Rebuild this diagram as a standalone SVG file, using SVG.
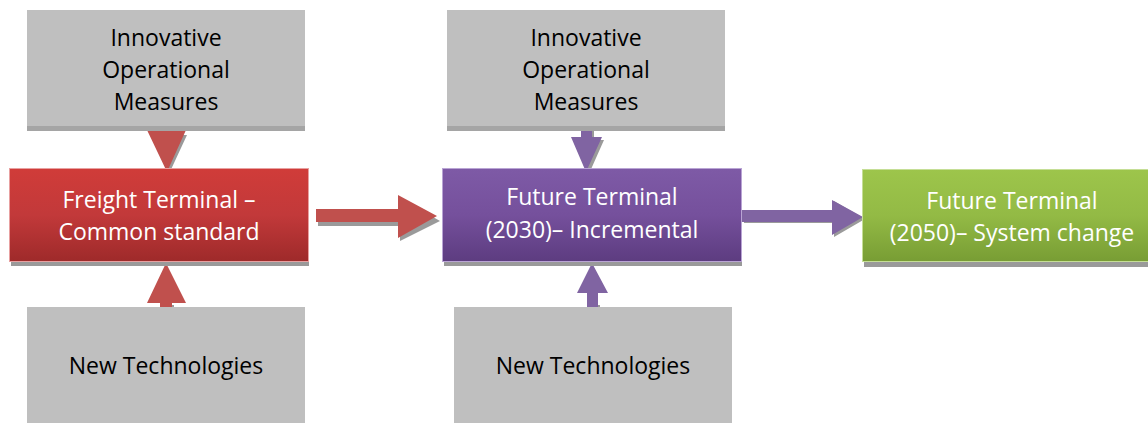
<svg xmlns="http://www.w3.org/2000/svg" width="1148" height="423" viewBox="0 0 1148 423">
<defs>
<linearGradient id="gRed" x1="0" y1="0" x2="0" y2="1"><stop offset="0" stop-color="#d03c39"/><stop offset="0.5" stop-color="#c2393a"/><stop offset="1" stop-color="#9e2a2a"/></linearGradient>
<linearGradient id="gPur" x1="0" y1="0" x2="0" y2="1"><stop offset="0" stop-color="#7e5aa6"/><stop offset="0.5" stop-color="#75509c"/><stop offset="1" stop-color="#5d3c80"/></linearGradient>
<linearGradient id="gGrn" x1="0" y1="0" x2="0" y2="1"><stop offset="0" stop-color="#9dc54b"/><stop offset="0.5" stop-color="#93ba45"/><stop offset="1" stop-color="#789d34"/></linearGradient>
</defs>
<style>
.gray{fill:#bfbfbf}
.gsh{fill:#a5a5a5}
.sh{fill:#9a9a9a}
.t{font-family:"Open Sans","Liberation Sans",sans-serif;font-size:23px;text-anchor:middle}
.dk{fill:#000}
.wt{fill:#fff}
.ar{fill:#c0504d}
.ap{fill:#8064a2}
</style>
<g id="connectors">
<path class="sh" d="M162 127h12v8h13l-19 41z"/>
<path class="ar" d="M160 125h12v5h14l-19 42l-20-42h13z"/>
<path class="sh" d="M162 305h12v8h-12z"/>
<path class="ar" d="M166 263l20 40h-14v7h-12v-7h-13z"/>
<path class="sh" d="M318 212h82v-14l40 23l-40 20v-15h-82z"/>
<path class="ar" d="M316 209h82v-14l39 21l-39 22v-16h-82z"/>
<path class="sh" d="M583 127h11v13h10l-16 36z"/>
<path class="ap" d="M581 125h11v12h10l-16 35l-15-35h10z"/>
<path class="sh" d="M589 305h11v7h-11z"/>
<path class="ap" d="M592 263l16 30h-10v17h-11v-17h-10z"/>
<path class="sh" d="M744 213h90v-12l31 18l-31 18v-14h-90z"/>
<path class="ap" d="M742 210h90v-10l31 17l-31 18v-13h-90z"/>
</g>
<g id="n1">
<rect class="gray" x="27" y="10" width="278" height="121"/>
<rect class="gsh" x="27" y="126" width="278" height="5"/>
<text class="t dk" x="166" y="46">Innovative</text>
<text class="t dk" x="166" y="78">Operational</text>
<text class="t dk" x="166" y="110">Measures</text>
</g>
<g id="n2">
<rect class="sh" x="11" y="172" width="298" height="94"/>
<rect fill="url(#gRed)" stroke="#e8a0a0" stroke-width="1" x="9.5" y="168.5" width="299" height="93"/>
<text class="t wt" x="159" y="208">Freight Terminal –</text>
<text class="t wt" x="159" y="240">Common standard</text>
</g>
<g id="n3">
<rect class="gray" x="27" y="307" width="278" height="116"/>
<text class="t dk" x="166" y="374">New Technologies</text>
</g>
<g id="n4">
<rect class="gray" x="447" y="10" width="278" height="121"/>
<rect class="gsh" x="447" y="126" width="278" height="5"/>
<text class="t dk" x="586" y="46">Innovative</text>
<text class="t dk" x="586" y="78">Operational</text>
<text class="t dk" x="586" y="110">Measures</text>
</g>
<g id="n5">
<rect class="sh" x="444" y="172" width="298" height="94"/>
<rect fill="url(#gPur)" stroke="#b9a4d4" stroke-width="1" x="442.5" y="168.5" width="299" height="93"/>
<text class="t wt" x="592" y="205">Future Terminal</text>
<text class="t wt" x="592" y="238">(2030)– Incremental</text>
</g>
<g id="n6">
<rect class="gray" x="454" y="307" width="278" height="116"/>
<text class="t dk" x="593" y="374">New Technologies</text>
</g>
<g id="n7">
<rect class="sh" x="864" y="172" width="284" height="95"/>
<rect fill="url(#gGrn)" stroke="#c5de96" stroke-width="1" x="862.5" y="169.5" width="286" height="92"/>
<text class="t wt" x="1012" y="209">Future Terminal</text>
<text class="t wt" x="1012" y="241">(2050)– System change</text>
</g>
</svg>
